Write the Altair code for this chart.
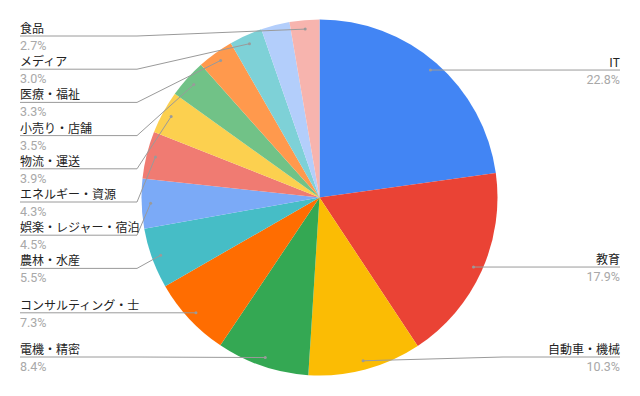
import math
import altair as alt
import pandas as pd

# ---- data ----
categories = ["IT", "教育", "自動車・機械", "電機・精密", "コンサルティング・士", "農林・水産",
              "娯楽・レジャー・宿泊", "エネルギー・資源", "物流・運送", "小売り・店舗", "医療・福祉",
              "メディア", "その他", "食品"]
values = [22.8, 17.9, 10.3, 8.4, 7.3, 5.5, 4.5, 4.3, 3.9, 3.5, 3.3, 3.0, 2.6, 2.7]
labeled = [True] * 12 + [False, True]
colors = ["#4285f4", "#ea4335", "#fbbc04", "#34a853", "#ff6d01", "#46bdc6", "#7baaf7",
          "#f07b72", "#fcd04f", "#71c287", "#ff994d", "#7ed1d7", "#b3cefb", "#f7b4ae"]

# ---- layout constants ----
W, H = 640, 396
CX, CY, R = 319.5, 197.5, 178
DOT_R = 169
LEFT_X, LEFT_ELBOW = 20, 137
RIGHT_X, RIGHT_ELBOW = 620, 503
GAP, TOP_MIN, BOTTOM_MAX = 33.2, 36, 357

total = sum(values)
slices = pd.DataFrame({"cat": categories, "value": values, "idx": list(range(len(values)))})

# geometry of label anchors derived from the values
info = []
cum = 0.0
for i, (c, v) in enumerate(zip(categories, values)):
    mid = (cum + v / 2) / total * 2 * math.pi
    cum += v
    dx = CX + DOT_R * math.sin(mid)
    dy = CY - DOT_R * math.cos(mid)
    side = "R" if math.sin(mid) > 0 else "L"
    info.append({"i": i, "cat": c, "pct": f"{v / total * 100:.1f}%", "dx": dx, "dy": dy,
                 "side": side, "show": labeled[i]})


def place(items):
    items = sorted(items, key=lambda d: d["dy"])
    prev = -1e9
    for d in items:
        d["ly"] = max(d["dy"], prev + GAP, TOP_MIN)
        prev = d["ly"]
    nxt = 1e9
    for d in reversed(items):
        d["ly"] = min(d["ly"], nxt - GAP, BOTTOM_MAX)
        nxt = d["ly"]


place([d for d in info if d["show"] and d["side"] == "L"])
place([d for d in info if d["show"] and d["side"] == "R"])

line_rows, text_rows, dot_rows = [], [], []
for d in info:
    if not d["show"]:
        continue
    if d["side"] == "L":
        ex, tx = LEFT_ELBOW, LEFT_X
    else:
        ex, tx = RIGHT_ELBOW, RIGHT_X
    pts = [(d["dx"], d["dy"]), (ex, d["ly"]), (tx, d["ly"])]
    for s, (px, py) in enumerate(pts):
        line_rows.append({"cat": d["cat"], "seq": s, "x": px, "y": py})
    dot_rows.append({"cat": d["cat"], "x": d["dx"], "y": d["dy"]})
    text_rows.append({"cat": d["cat"], "pct": d["pct"], "side": d["side"], "x": tx,
                      "ny": d["ly"] - 3, "py": d["ly"] + 14})

lines = pd.DataFrame(line_rows)
dots = pd.DataFrame(dot_rows)
texts = pd.DataFrame(text_rows)

xs = alt.Scale(domain=[0, W], nice=False, zero=False)
ys = alt.Scale(domain=[0, H], reverse=True, nice=False, zero=False)

pie = alt.Chart(slices).mark_arc(outerRadius=R).encode(
    theta=alt.Theta("value:Q", stack=True),
    order=alt.Order("idx:Q"),
    color=alt.Color("cat:N", scale=alt.Scale(domain=categories, range=colors), legend=None),
    x=alt.value(CX),
    y=alt.value(CY),
)

leader = alt.Chart(lines).mark_line(color="#9a9a9a", strokeWidth=1).encode(
    x=alt.X("x:Q", scale=xs, axis=None),
    y=alt.Y("y:Q", scale=ys, axis=None),
    detail="cat:N",
    order="seq:Q",
)

dot = alt.Chart(dots).mark_circle(color="#9a9a9a", size=9, opacity=1).encode(
    x=alt.X("x:Q", scale=xs, axis=None),
    y=alt.Y("y:Q", scale=ys, axis=None),
)

layers = [pie, leader, dot]
for side, align in (("L", "left"), ("R", "right")):
    base = alt.Chart(texts).transform_filter(alt.datum.side == side)
    layers.append(base.mark_text(align=align, baseline="alphabetic", fontSize=12,
                                 font="Noto Sans CJK JP", color="#222222").encode(
        x=alt.X("x:Q", scale=xs, axis=None),
        y=alt.Y("ny:Q", scale=ys, axis=None),
        text="cat:N",
    ))
    layers.append(base.mark_text(align=align, baseline="alphabetic", fontSize=12.5,
                                 font="Roboto", color="#a8a8a8").encode(
        x=alt.X("x:Q", scale=xs, axis=None),
        y=alt.Y("py:Q", scale=ys, axis=None),
        text="pct:N",
    ))

chart = alt.layer(*layers).properties(
    width=W, height=H, autosize=alt.AutoSizeParams(type="none"), padding=0
).configure_view(stroke=None)

chart.save("out.html", embed_options={"renderer": "svg", "actions": False})
